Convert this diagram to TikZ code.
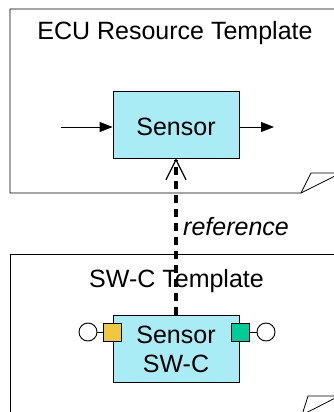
\documentclass[tikz,border=0pt]{standalone}
\usepackage{fontspec}
\setmainfont{Liberation Sans}
\usetikzlibrary{arrows.meta}
\definecolor{boxcyan}{RGB}{170,236,246}
\definecolor{portyellow}{RGB}{240,200,64}
\definecolor{portgreen}{RGB}{0,204,153}
\tikzset{
  frameline/.style={line width=0.8pt},
  compbox/.style={draw, fill=boxcyan, line width=0.9pt, minimum width=126pt, minimum height=67pt, inner sep=0pt, align=center, font=\fontsize{25}{29}\selectfont},
  portbox/.style={draw, line width=0.9pt, minimum size=18pt, inner sep=0pt},
  portring/.style={draw, fill=white, circle, line width=0.9pt, minimum size=18pt, inner sep=0pt},
  titletext/.style={font=\fontsize{25}{29}\selectfont, anchor=base, inner sep=0pt},
  sigarrow/.style={line width=0.9pt, -{Triangle[length=13pt,width=10pt]}},
}

\begin{document}
\begin{tikzpicture}[x=1pt,y=-1pt]
			\useasboundingbox (0,0) rectangle (334,412);
			\clip (0,0) rectangle (334,412);
			%%%%% ECU FRAME %%%%%
			
			\draw[frameline] (345,9) -- (10,9) -- (10,193) -- (301,193) -- (311,173) -- (345,173);
			\draw[frameline] (301,193) -- (345,171);
			\node[titletext] (ecutitle) at (175,40) {ECU Resource Template};
			
			\node[compbox, text height=23pt] (sensor) at (176,124.5) {Sensor};
			\coordinate (sigin) at (61,127);
			\coordinate (sigout) at (274,127);
			\draw[sigarrow] (sigin) -- (sigin -| sensor.west);
			\draw[sigarrow] (sigout -| sensor.east) -- (sigout);
			
			%%%%% SW-C FRAME %%%%%
			
			\draw[frameline] (345,254) -- (10,254) -- (10,420);
			\draw[frameline] (302,415) -- (308,396) -- (345,396);
			\draw[frameline] (302,415) -- (345,393);
			\node[titletext] (swctitle) at (176.5,287) {SW-C Template};
			
			\node[compbox] (sensorswc) at (176,349) {Sensor\\SW-C};
			\node[portbox, fill=portyellow] (inport) at (112,332) {};
			\node[portring] (inring) at (88,332) {};
			\draw[line width=0.9pt] (inring) -- (inport);
			\node[portbox, fill=portgreen] (outport) at (240,332) {};
			\node[portring] (outring) at (266,332) {};
			\draw[line width=0.9pt] (outport) -- (outring);
			
			%%%%% REFERENCE %%%%%
			
			\draw[line width=4pt, dash pattern=on 8pt off 6pt, -{Straight Barb[length=20pt,width=20pt,line width=1.2pt]}] (sensorswc.north) -- (sensor.south);
			\node[font=\fontsize{25}{29}\selectfont\itshape, anchor=base west, inner sep=0pt] (reftext) at (183,235) {reference};
			
\end{tikzpicture}
\end{document}
